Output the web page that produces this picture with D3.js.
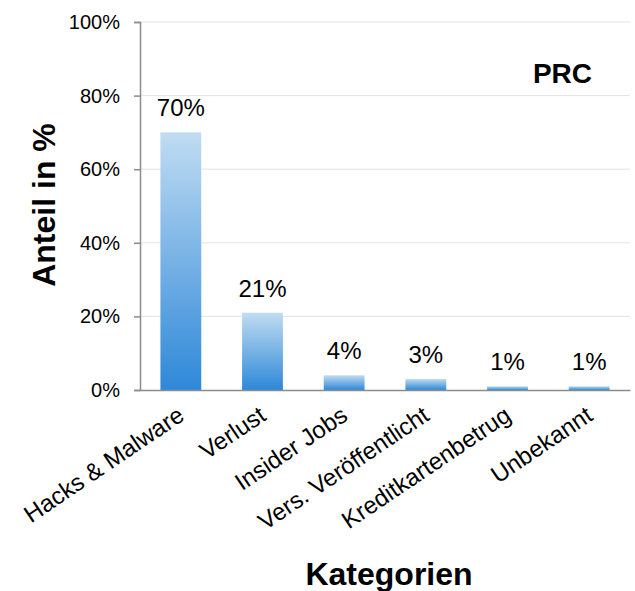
<!DOCTYPE html>
<html>
<head>
<meta charset="utf-8">
<script src="https://cdn.jsdelivr.net/npm/d3@7/dist/d3.min.js"></script>
<style>
  html, body { margin: 0; padding: 0; background: #fff; }
  svg { display: block; font-family: "Liberation Sans", Arial, sans-serif; }
</style>
</head>
<body>
<svg id="chart" width="635" height="591"></svg>
<script>
// Share of data breaches by category (PRC)
const categories = ["Hacks & Malware", "Verlust", "Insider Jobs", "Vers. Veröffentlicht", "Kreditkartenbetrug", "Unbekannt"];
const values = [70, 21, 4, 3, 1, 1];
const yTicks = [0, 20, 40, 60, 80, 100];

const svg = d3.select("#chart");
const margin = { left: 140, right: 5, top: 22, bottom: 201 };
const width = 635, height = 591;
const font = "Liberation Sans, Arial, sans-serif";

const x = d3.scaleBand()
  .domain(categories)
  .range([margin.left, width - margin.right])
  .paddingInner(0.5)
  .paddingOuter(0.25);

const y = d3.scaleLinear()
  .domain([0, 100])
  .range([height - margin.bottom, margin.top]);

// vertical gradient used by every bar
const defs = svg.append("defs");
const grad = defs.append("linearGradient")
  .attr("id", "barGrad")
  .attr("x1", 0).attr("y1", 0).attr("x2", 0).attr("y2", 1);
grad.append("stop").attr("offset", "0%").attr("stop-color", "#c0dcf2");
grad.append("stop").attr("offset", "100%").attr("stop-color", "#2e88d8");

// horizontal gridlines
svg.append("g")
  .selectAll("line")
  .data(yTicks.filter(d => d > 0))
  .join("line")
  .attr("x1", margin.left)
  .attr("x2", width - margin.right)
  .attr("y1", d => y(d))
  .attr("y2", d => y(d))
  .attr("stroke", "#e3e3e3")
  .attr("stroke-width", 1);

// bars
svg.append("g")
  .selectAll("rect")
  .data(values)
  .join("rect")
  .attr("x", (d, i) => x(categories[i]))
  .attr("width", x.bandwidth())
  .attr("y", d => y(d))
  .attr("height", d => y(0) - y(d))
  .attr("fill", "url(#barGrad)");

// value labels
svg.append("g")
  .selectAll("text")
  .data(values)
  .join("text")
  .attr("x", (d, i) => x(categories[i]) + x.bandwidth() / 2)
  .attr("y", d => y(d) - 16)
  .attr("text-anchor", "middle")
  .attr("font-size", 24)
  .attr("font-family", font)
  .attr("fill", "#000")
  .text(d => d + "%");

// y axis
const yAxis = svg.append("g")
  .attr("transform", `translate(${margin.left},0)`)
  .call(d3.axisLeft(y).tickValues(yTicks).tickFormat(d => d + "%").tickSize(6).tickPadding(14));
yAxis.select(".domain").attr("stroke", "#8c8c8c").attr("stroke-width", 1.5);
yAxis.selectAll(".tick line").attr("stroke", "#8c8c8c").attr("stroke-width", 1.5);
yAxis.selectAll(".tick text")
  .attr("font-size", 20)
  .attr("font-family", font)
  .attr("fill", "#000");

// x axis
const xAxis = svg.append("g")
  .attr("transform", `translate(0,${y(0)})`)
  .call(d3.axisBottom(x).tickSize(0).tickPadding(0));
xAxis.select(".domain").attr("stroke", "#8c8c8c").attr("stroke-width", 1.5);
xAxis.selectAll(".tick text")
  .attr("font-size", 24)
  .attr("font-family", font)
  .attr("fill", "#000")
  .attr("text-anchor", "end")
  .attr("dy", 0)
  .attr("transform", "translate(5,29) rotate(-34)");

// axis titles
svg.append("text")
  .attr("transform", `translate(55,205) rotate(-90)`)
  .attr("text-anchor", "middle")
  .attr("font-size", 32)
  .attr("font-weight", "bold")
  .attr("font-family", font)
  .text("Anteil in %");

svg.append("text")
  .attr("x", 389)
  .attr("y", 585)
  .attr("text-anchor", "middle")
  .attr("font-size", 32)
  .attr("font-weight", "bold")
  .attr("font-family", font)
  .text("Kategorien");

// source tag
svg.append("text")
  .attr("x", 592)
  .attr("y", 83)
  .attr("text-anchor", "end")
  .attr("font-size", 28)
  .attr("font-weight", "bold")
  .attr("font-family", font)
  .text("PRC");
</script>
</body>
</html>
